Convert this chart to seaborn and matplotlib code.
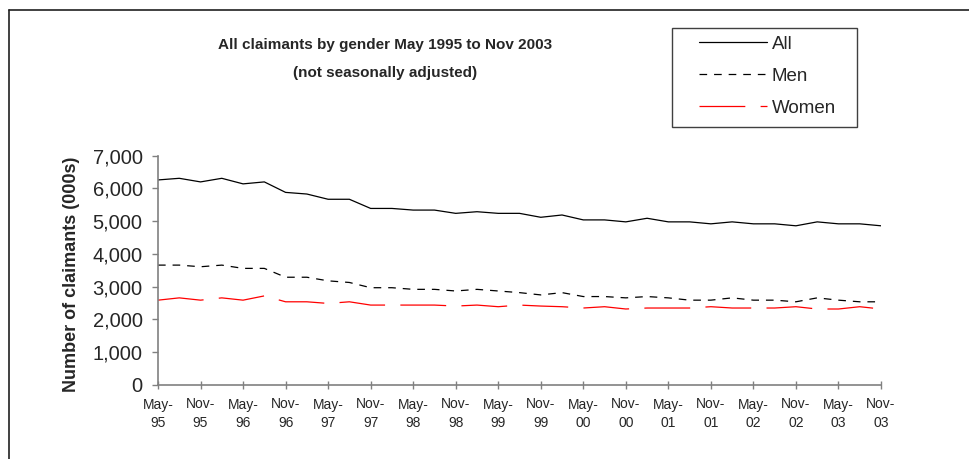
import numpy as np
import pandas as pd
import matplotlib
matplotlib.use("Agg")
import matplotlib.pyplot as plt
import seaborn as sns
from matplotlib.lines import Line2D
from matplotlib.patches import Rectangle

# quarterly data, May-95 .. Nov-03 (thousands)
all_claimants = [6260, 6310, 6200, 6310, 6140, 6200, 5880, 5830, 5670, 5670, 5390, 5390,
                 5340, 5340, 5240, 5290, 5240, 5240, 5120, 5190, 5040, 5040, 4980, 5090,
                 4980, 4980, 4920, 4980, 4920, 4920, 4860, 4980, 4920, 4920, 4860]
men = [3660, 3660, 3610, 3660, 3560, 3560, 3290, 3290, 3180, 3130, 2970, 2970,
       2920, 2920, 2870, 2920, 2870, 2820, 2750, 2820, 2700, 2700, 2660, 2700,
       2660, 2590, 2590, 2660, 2590, 2590, 2540, 2660, 2590, 2540, 2540]
women = [2590, 2660, 2590, 2660, 2590, 2720, 2540, 2540, 2490, 2540, 2440, 2440,
         2440, 2440, 2410, 2440, 2390, 2440, 2410, 2390, 2350, 2390, 2320, 2350,
         2350, 2350, 2390, 2350, 2350, 2350, 2390, 2320, 2320, 2390, 2320]
tick_labels = ["May-\n95", "Nov-\n95", "May-\n96", "Nov-\n96", "May-\n97", "Nov-\n97",
               "May-\n98", "Nov-\n98", "May-\n99", "Nov-\n99", "May-\n00", "Nov-\n00",
               "May-\n01", "Nov-\n01", "May-\n02", "Nov-\n02", "May-\n03", "Nov-\n03"]
series_names = ["All", "Men", "Women"]

sns.set_theme(style="white")
plt.rcParams["font.family"] = ["Liberation Sans", "DejaVu Sans"]
plt.rcParams["lines.scale_dashes"] = False

n = len(all_claimants)
df = pd.DataFrame({
    "quarter": np.tile(np.arange(n), 3),
    "claimants": all_claimants + men + women,
    "series": np.repeat(series_names, n),
})

W, H = 970, 459
fig = plt.figure(figsize=(W / 100, H / 100), dpi=100)
ax = fig.add_axes([158 / W, 1 - 385 / H, (881 - 158) / W, (385 - 155.7) / H])

sns.lineplot(data=df, x="quarter", y="claimants", hue="series", style="series",
             palette={"All": "black", "Men": "black", "Women": "red"},
             dashes={"All": "", "Men": (5.5, 5), "Women": (33, 11)},
             linewidth=0.9, ax=ax)

ax.set_xlim(0, n - 1)
ax.set_ylim(0, 7000)
ax.set_yticks(range(0, 7001, 1000))
ax.set_yticklabels([f"{v:,}" for v in range(0, 7001, 1000)], fontsize=14.5)
ax.set_xticks(range(0, n, 2))
ax.set_xticklabels(tick_labels, fontsize=10, linespacing=1.45)
ax.set_xlabel("")
ax.set_ylabel("")

for side in ["top", "right"]:
    ax.spines[side].set_visible(False)
for side in ["left", "bottom"]:
    ax.spines[side].set_color("#808080")
    ax.spines[side].set_linewidth(1.2)
ax.tick_params(axis="y", direction="out", length=4, width=1, color="#808080", pad=7, left=True)
ax.tick_params(axis="x", direction="inout", length=6, width=1, color="#808080", pad=6, bottom=True)

# legend in its own box
handles, labels = ax.get_legend_handles_labels()
ax.get_legend().remove()
fig.legend(handles, labels, loc="upper left", bbox_to_anchor=(692 / W, 1 - 28 / H),
           frameon=False, fontsize=13.5, handlelength=3.6, handletextpad=0.25,
           labelspacing=0.8, borderaxespad=0)
fig.add_artist(Rectangle((672 / W, 1 - 127 / H), (857 - 672) / W, (127 - 28) / H,
                         transform=fig.transFigure, fill=False, edgecolor="#404040", lw=1))

fig.text(385 / W, 1 - 45 / H, "All claimants by gender May 1995 to Nov 2003",
         ha="center", va="center", fontsize=11, fontweight="bold")
fig.text(385 / W, 1 - 73 / H, "(not seasonally adjusted)",
         ha="center", va="center", fontsize=11, fontweight="bold")
fig.text(72 / W, 1 - 274 / H, "Number of claimants (000s)", rotation=90,
         ha="center", va="center", fontsize=13, fontweight="bold")

# chart border (top and left)
fig.add_artist(Line2D([9 / W, 1], [1 - 10 / H, 1 - 10 / H], transform=fig.transFigure,
                      color="#202020", lw=1.2))
fig.add_artist(Line2D([9 / W, 9 / W], [0, 1 - 10 / H], transform=fig.transFigure,
                      color="#202020", lw=1.2))

fig.savefig("out.png", dpi=100)
